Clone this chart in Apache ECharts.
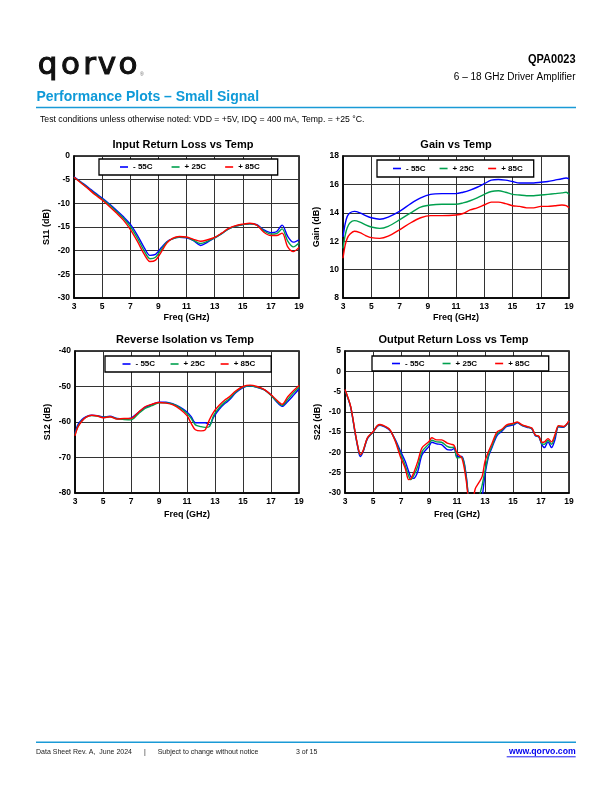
<!DOCTYPE html>
<html>
<head>
<meta charset="utf-8">
<script src="https://cdn.jsdelivr.net/npm/echarts@6/dist/echarts.min.js"></script>
<style>
html,body{margin:0;padding:0;background:#fff;}
#page{width:612px;height:792px;}
</style>
</head>
<body>
<div id="page"></div>
<script>
// ---------------- DATA ----------------
const legendNames = ['- 55C', '+ 25C', '+ 85C'];
const chartTitles = ['Input Return Loss vs Temp', 'Gain vs Temp', 'Reverse Isolation vs Temp', 'Output Return Loss vs Temp'];
const yNames = ['S11 (dB)', 'Gain (dB)', 'S12 (dB)', 'S22 (dB)'];
const xName = 'Freq (GHz)';

// Input Return Loss (S11)
const s11Freq = [3, 3.5, 4, 4.5, 5, 5.5, 6, 6.5, 7, 7.5, 8, 8.4, 8.8, 9.2, 9.6, 10, 10.5, 11, 11.5, 12, 12.5, 13, 13.5, 14, 14.5, 15, 15.5, 16, 16.5, 17, 17.4, 17.8, 18.2, 18.6, 19];
const s11M55 = [-4.4, -5.5, -6.6, -7.8, -8.9, -10.1, -11.4, -12.8, -14.4, -16.7, -19.4, -21.0, -20.8, -19.4, -18.1, -17.5, -17.2, -17.3, -17.9, -18.9, -18.2, -17.3, -16.4, -15.4, -14.8, -14.5, -14.3, -14.5, -15.6, -16.2, -16.0, -14.6, -17.0, -18.2, -17.7];
const s11P25 = [-4.5, -5.6, -6.8, -8.0, -9.1, -10.3, -11.7, -13.1, -14.9, -17.3, -20.1, -21.7, -21.4, -19.8, -18.2, -17.5, -17.1, -17.2, -17.8, -18.5, -18.0, -17.3, -16.4, -15.4, -14.8, -14.5, -14.3, -14.6, -15.8, -16.5, -16.4, -15.4, -18.0, -19.2, -18.4];
const s11P85 = [-4.5, -5.7, -6.9, -8.2, -9.3, -10.6, -12.0, -13.5, -15.5, -18.0, -20.8, -22.3, -22.0, -20.3, -18.4, -17.4, -17.0, -17.1, -17.6, -18.0, -17.7, -17.2, -16.3, -15.3, -14.7, -14.4, -14.2, -14.6, -16.1, -16.8, -16.8, -16.3, -19.2, -20.2, -19.3];

// Gain
const gainFreq = [3, 3.15, 3.3, 3.5, 3.8, 4.2, 4.6, 5, 5.6, 6.2, 7, 7.8, 8.5, 9.2, 10, 11, 11.5, 12, 12.5, 13, 13.5, 14, 14.5, 15, 15.5, 16, 16.5, 17, 17.5, 18, 18.5, 18.8, 19];
const gainM55 = [12.3, 13.2, 13.75, 14.0, 14.1, 14.0, 13.8, 13.65, 13.55, 13.7, 14.1, 14.65, 15.05, 15.3, 15.35, 15.35, 15.45, 15.6, 15.8, 16.05, 16.3, 16.35, 16.3, 16.2, 16.1, 16.1, 16.1, 16.15, 16.2, 16.3, 16.4, 16.45, 16.4];
const gainP25 = [11.5, 12.4, 12.95, 13.3, 13.45, 13.35, 13.15, 13.0, 12.9, 13.05, 13.5, 14.0, 14.4, 14.55, 14.6, 14.6, 14.7, 14.85, 15.05, 15.3, 15.5, 15.55, 15.45, 15.3, 15.25, 15.2, 15.2, 15.25, 15.3, 15.35, 15.4, 15.45, 15.3];
const gainP85 = [10.8, 11.7, 12.2, 12.5, 12.7, 12.6, 12.4, 12.25, 12.2, 12.35, 12.8, 13.3, 13.65, 13.8, 13.8, 13.85, 13.95, 14.2, 14.35, 14.55, 14.75, 14.75, 14.65, 14.5, 14.45, 14.35, 14.35, 14.45, 14.45, 14.5, 14.55, 14.5, 14.35];

// Reverse Isolation (S12)
const s12Freq = [3, 3.2, 3.5, 3.8, 4.2, 4.6, 5, 5.5, 6, 6.5, 7, 7.5, 8, 8.5, 9, 9.5, 10, 10.5, 11, 11.3, 11.6, 12, 12.3, 12.6, 12.9, 13.3, 13.7, 14, 14.5, 15, 15.5, 16, 16.5, 17, 17.4, 17.8, 18.2, 18.6, 19];
const s12M55 = [-63.2, -60.8, -59.3, -58.5, -58.1, -58.2, -58.6, -58.4, -59.0, -59.1, -58.9, -57.4, -55.9, -55.1, -54.4, -54.4, -54.9, -55.8, -57.2, -58.5, -60.2, -60.2, -60.2, -60.8, -58.6, -56.4, -54.8, -53.9, -51.7, -50.3, -49.9, -50.2, -50.9, -52.4, -54.3, -55.6, -54.2, -52.5, -50.7];
const s12P25 = [-63.6, -61.3, -59.6, -58.6, -58.2, -58.3, -58.7, -58.5, -59.1, -59.3, -59.4, -57.8, -56.2, -55.4, -54.6, -54.6, -55.0, -56.0, -57.6, -59.0, -60.8, -61.3, -61.5, -61.3, -58.2, -56.0, -54.4, -53.5, -51.5, -50.2, -49.8, -50.2, -50.9, -52.5, -54.1, -55.3, -53.6, -51.8, -50.2];
const s12P85 = [-63.9, -61.5, -59.7, -58.6, -58.1, -58.3, -58.8, -58.5, -59.2, -59.0, -59.0, -57.4, -55.7, -55.0, -54.5, -54.7, -55.2, -56.4, -58.2, -60.4, -62.2, -62.5, -62.2, -59.4, -57.2, -55.3, -53.8, -53.0, -51.2, -50.0, -49.6, -50.0, -50.8, -52.3, -53.8, -55.0, -52.9, -51.2, -49.7];

// Output Return Loss (S22)
const s22Freq = [3, 3.4, 3.75, 4, 4.1, 4.3, 4.6, 5, 5.3, 5.5, 6, 6.25, 6.6, 6.95, 7.3, 7.55, 7.7, 7.9, 8.2, 8.5, 9, 9.2, 9.55, 9.9, 10.3, 10.6, 10.8, 11, 11.35, 11.65, 11.8, 12.0, 12.3, 12.55, 12.8, 13.0, 13.25, 13.5, 13.85, 14.2, 14.55, 15.05, 15.3, 15.65, 16, 16.35, 16.6, 16.85, 17.05, 17.25, 17.5, 17.75, 18.0, 18.25, 18.6, 19];
const s22M55 = [-4.6, -8.8, -15.8, -20.2, -21.0, -19.8, -16.6, -15.0, -13.6, -13.3, -14.0, -14.8, -16.9, -19.6, -22.2, -24.7, -26.0, -26.4, -24.7, -20.6, -18.5, -17.5, -17.9, -18.1, -19.3, -19.4, -19.0, -21.0, -21.0, -25.5, -30.5, -35, -36, -36, -31, -25.5, -21.0, -18.8, -15.9, -14.8, -13.6, -13.2, -12.7, -13.4, -13.8, -14.2, -15.9, -16.2, -18.0, -18.8, -17.4, -18.8, -16.8, -13.7, -13.8, -12.3];
const s22P25 = [-4.6, -8.7, -15.7, -19.9, -20.6, -19.6, -16.5, -15.0, -13.5, -13.2, -13.9, -14.7, -17.1, -20.2, -23.2, -25.8, -26.7, -25.8, -23.4, -19.8, -17.9, -17.0, -17.4, -17.5, -18.5, -18.8, -18.7, -21.4, -21.2, -26.0, -30.5, -35, -35, -31.5, -28.0, -24.5, -20.6, -18.4, -15.5, -14.5, -13.4, -13.0, -12.6, -13.3, -13.7, -14.1, -15.8, -16.1, -17.8, -18.0, -17.0, -18.0, -16.0, -13.6, -13.7, -12.3];
const s22P85 = [-4.5, -8.6, -15.5, -19.8, -20.5, -19.5, -16.4, -14.9, -13.4, -13.1, -13.8, -14.6, -17.3, -21.0, -23.9, -26.7, -26.5, -25.1, -22.2, -18.9, -17.3, -16.4, -16.9, -16.9, -17.7, -18.0, -18.3, -20.2, -21.4, -26.7, -31, -34, -29.0, -27.5, -25.9, -22.2, -19.8, -17.8, -15.0, -14.3, -13.2, -12.8, -12.5, -13.2, -13.6, -14.0, -15.7, -16.0, -17.5, -17.4, -16.6, -17.4, -15.6, -13.4, -13.6, -12.2];

// Axis ranges
const xRange = {min: 3, max: 19, step: 2};
const yRanges = [
  {min: -30, max: 0, step: 5},
  {min: 8, max: 18, step: 2},
  {min: -80, max: -40, step: 10},
  {min: -30, max: 5, step: 5}
];

// ---------------- LAYOUT / STYLE ----------------
const FF = '"Liberation Sans", Arial, Helvetica, sans-serif';
const COLORS = ['#0000ff', '#00a04e', '#ff0000'];
const grids = [
  {left: 74, top: 156, width: 225, height: 142},
  {left: 343, top: 156, width: 226, height: 142},
  {left: 75, top: 351, width: 224, height: 142},
  {left: 345, top: 351, width: 224, height: 142}
];
const xNameGaps = [15, 15, 17, 17];
const yNameGaps = [23, 22, 23, 23];
const titlePos = [[183, 145], [456, 145], [185, 340], [453.5, 340]];
const legendCfg = [
  {left: 99, top: 159, gap: 19, pad: [4, 18, 4, 21]},
  {left: 377, top: 160, gap: 14, pad: [4.5, 11, 4.5, 16]},
  {left: 105, top: 356, gap: 15.5, pad: [4, 16, 4, 17.5]},
  {left: 372, top: 356, gap: 18, pad: [3.5, 19, 3.5, 20]}
];

const seriesData = [
  [s11Freq, [s11M55, s11P25, s11P85]],
  [gainFreq, [gainM55, gainP25, gainP85]],
  [s12Freq, [s12M55, s12P25, s12P85]],
  [s22Freq, [s22M55, s22P25, s22P85]]
];

const labelStyle = {fontFamily: FF, fontWeight: 'bold', fontSize: 8.5, color: '#000'};
const nameStyle = {fontFamily: FF, fontWeight: 'bold', fontSize: 9, color: '#000'};

const option = {
  animation: false,
  backgroundColor: '#fff',
  grid: grids.map(g => Object.assign({show: true, borderColor: '#000', borderWidth: 1.5, backgroundColor: 'transparent', containLabel: false}, g)),
  xAxis: grids.map((g, i) => ({
    type: 'value', gridIndex: i, min: xRange.min, max: xRange.max, interval: xRange.step,
    name: xName, nameLocation: 'middle', nameGap: xNameGaps[i], nameTextStyle: nameStyle,
    axisLine: {show: true, onZero: false, lineStyle: {color: '#000', width: 1.5}},
    axisTick: {show: false},
    axisLabel: Object.assign({margin: 4}, labelStyle),
    splitLine: {show: true, lineStyle: {color: '#333', width: 1}}
  })),
  yAxis: grids.map((g, i) => ({
    type: 'value', gridIndex: i, min: yRanges[i].min, max: yRanges[i].max, interval: yRanges[i].step,
    name: yNames[i], nameLocation: 'middle', nameGap: yNameGaps[i], nameRotate: 90, nameTextStyle: nameStyle,
    axisLine: {show: true, onZero: false, lineStyle: {color: '#000', width: 1.5}},
    axisTick: {show: false},
    axisLabel: Object.assign({margin: 4}, labelStyle),
    splitLine: {show: true, lineStyle: {color: '#333', width: 1}}
  })),
  legend: legendCfg.map(l => ({
    left: l.left, top: l.top, orient: 'horizontal', data: legendNames,
    icon: 'rect', itemWidth: 8, itemHeight: 1.6, itemGap: l.gap, padding: l.pad,
    borderColor: '#000', borderWidth: 1.3, backgroundColor: '#fff', selectedMode: false,
    textStyle: {fontFamily: FF, fontWeight: 'bold', fontSize: 8, color: '#000'}, z: 10
  })),
  series: [],
  graphic: []
};

seriesData.forEach(([freq, sets], ci) => {
  sets.forEach((vals, si) => {
    option.series.push({
      type: 'line', name: legendNames[si], xAxisIndex: ci, yAxisIndex: ci,
      data: freq.map((f, k) => [f, vals[k]]),
      smooth: 0.3, symbol: 'none', showSymbol: false, clip: true,
      lineStyle: {color: COLORS[si], width: 1.4}, itemStyle: {color: COLORS[si]}, z: 3
    });
  });
});

const G = option.graphic;
function txt(x, y, text, font, fill, align, extra) {
  const el = {type: 'text', x: x, y: y, silent: true, style: {text: text, font: font, fill: fill || '#000', align: align || 'left', verticalAlign: 'middle'}};
  if (extra) Object.assign(el, extra.el || {}), Object.assign(el.style, extra.style || {});
  G.push(el);
}
function line(x1, y1, x2, y2, color, w) {
  G.push({type: 'line', silent: true, shape: {x1: x1, y1: y1, x2: x2, y2: y2}, style: {stroke: color, lineWidth: w}});
}

// chart titles
chartTitles.forEach((t, i) => txt(titlePos[i][0], titlePos[i][1], t, 'bold 11px ' + FF, '#000', 'center'));

// header: logo letters
const logoLetters = [['q', 47.5], ['o', 70.5], ['r', 89.5], ['v', 107], ['o', 128]];
logoLetters.forEach(([ch, cx]) => txt(cx, 66, ch, '31px "DejaVu Sans", sans-serif', '#111', 'center',
  {style: {stroke: '#111', lineWidth: 1.1}}));
txt(140, 75, '®', '5px ' + FF, '#666', 'left');
txt(575.5, 59.5, 'QPA0023', 'bold 13.5px ' + FF, '#000', 'right', {el: {scaleX: 0.815}});
txt(575.5, 77, '6 – 18 GHz Driver Amplifier', '10px ' + FF, '#000', 'right');
txt(36.5, 97.5, 'Performance Plots – Small Signal', 'bold 14px ' + FF, '#0f9ad8', 'left');
line(36, 107.5, 576, 107.5, '#1a9ad6', 1.5);
txt(40, 120, 'Test conditions unless otherwise noted: VDD = +5V, IDQ = 400 mA, Temp. = +25 °C.', '8.7px ' + FF, '#000', 'left');

// footer
line(36, 742.3, 576, 742.3, '#1a9ad6', 1.5);
txt(36, 752, 'Data Sheet Rev. A,  June 2024', '7px ' + FF, '#222', 'left');
txt(144, 752, '|', '7px ' + FF, '#222', 'left');
txt(157.7, 752, 'Subject to change without notice', '7px ' + FF, '#222', 'left');
txt(296, 752, '3 of 15', '7px ' + FF, '#222', 'left');
txt(575.7, 752, 'www.qorvo.com', 'bold 8.7px ' + FF, '#0000ee', 'right');
line(506.7, 756.8, 575.7, 756.8, '#0000ee', 0.9);

const chart = echarts.init(document.getElementById('page'), null, {renderer: 'canvas', width: 612, height: 792});
chart.setOption(option);
</script>
</body>
</html>
